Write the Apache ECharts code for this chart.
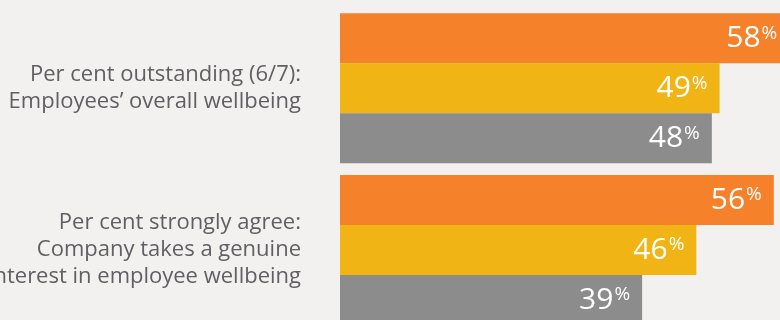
<!DOCTYPE html>
<html>
<head>
<meta charset="utf-8">
<script src="https://cdn.jsdelivr.net/npm/echarts@6/dist/echarts.min.js"></script>
<style>
  html, body { margin: 0; padding: 0; background: #f2f1ef; }
  #chart { width: 780px; height: 320px; }
</style>
</head>
<body>
<div id="chart"></div>
<script>
// Question labels (one per group of bars)
const categories = [
  'Per cent outstanding (6/7):\nEmployees\u2019 overall wellbeing',
  'Per cent strongly agree:\nCompany takes a genuine\ninterest in employee wellbeing'
];
// Three comparison groups, values in per cent
const seriesNames = ['Group A', 'Group B', 'Group C'];
const valuesA = [58, 56];
const valuesB = [49, 46];
const valuesC = [48, 39];
const seriesColors = ['#f5812b', '#f0b414', '#8c8c8c'];

const chart = echarts.init(document.getElementById('chart'), null, { renderer: 'canvas' });

function makeSeries(name, data, color) {
  return {
    name: name,
    type: 'bar',
    data: data,
    barWidth: 50,
    barGap: '0%',
    clip: false,
    itemStyle: { color: color },
    label: {
      show: true,
      position: 'insideRight',
      distance: 12,
      formatter: p => '{n|' + p.value + '}{p|%}',
      rich: {
        n: { fontFamily: 'Open Sans', fontSize: 30, color: '#ffffff', lineHeight: 34 },
        p: { fontFamily: 'Open Sans', fontSize: 19, color: '#ffffff', padding: [0, 0, 10, 1] }
      }
    }
  };
}

chart.setOption({
  backgroundColor: '#f2f1ef',
  animation: false,
  // the chart area runs past the right edge, so the axis max is set
  // where the visible 440px of width ends; long labels may run off the left
  grid: {
    left: 340, right: 0, top: 88.3, height: 161.7,
    containLabel: false,
    outerBoundsMode: 'none'
  },
  xAxis: {
    type: 'value',
    min: 0,
    max: 56.8,
    show: false
  },
  yAxis: {
    type: 'category',
    data: categories,
    inverse: true,
    boundaryGap: false,
    axisLine: { show: false },
    axisTick: { show: false },
    splitLine: { show: false },
    axisLabel: {
      margin: 39,
      fontFamily: 'Open Sans',
      fontSize: 22,
      lineHeight: 27,
      color: '#5f5f64',
      align: 'right'
    }
  },
  series: [
    makeSeries(seriesNames[0], valuesA, seriesColors[0]),
    makeSeries(seriesNames[1], valuesB, seriesColors[1]),
    makeSeries(seriesNames[2], valuesC, seriesColors[2])
  ]
});
</script>
</body>
</html>
